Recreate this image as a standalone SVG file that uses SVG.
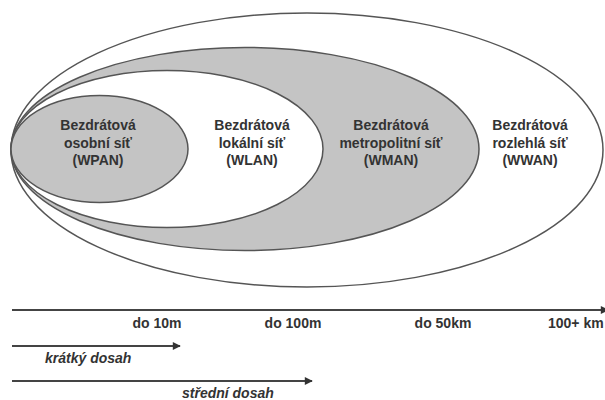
<svg xmlns="http://www.w3.org/2000/svg" width="605" height="400" viewBox="0 0 605 400">
<defs>
<style>
.ell{stroke:#555;stroke-width:1.5}
.g{fill:#c4c4c4}
.w{fill:#fff}
.t{font-family:"Liberation Sans",Arial,sans-serif;font-size:14px;font-weight:bold;fill:#333;text-anchor:middle}
.i{font-style:italic;text-anchor:start}
.ax{stroke:#444;stroke-width:2;fill:none}
</style>
<marker id="ah" viewBox="0 0 10 10" refX="9" refY="5" markerWidth="5" markerHeight="4" orient="auto" markerUnits="strokeWidth">
<path d="M0,0 L10,5 L0,10 z" fill="#333"/>
</marker>
</defs>
<rect width="605" height="400" fill="#fff"/>
<g id="wwan">
<ellipse class="ell w" cx="307" cy="150" rx="296" ry="137"/>
<text class="t" x="530" y="130">Bezdrátová</text>
<text class="t" x="530" y="147.5">rozlehlá síť</text>
<text class="t" x="530" y="165">(WWAN)</text>
</g>
<g id="wman">
<ellipse class="ell g" cx="245" cy="149" rx="234" ry="101.5"/>
<text class="t" x="391" y="130">Bezdrátová</text>
<text class="t" x="391" y="147.5">metropolitní síť</text>
<text class="t" x="391" y="165">(WMAN)</text>
</g>
<g id="wlan">
<ellipse class="ell w" cx="167" cy="149" rx="156" ry="78.5"/>
<text class="t" x="252" y="130">Bezdrátová</text>
<text class="t" x="252" y="147.5">lokální síť</text>
<text class="t" x="252" y="165">(WLAN)</text>
</g>
<g id="wpan">
<ellipse class="ell g" cx="99.5" cy="149" rx="88.5" ry="53.5"/>
<text class="t" x="98" y="130">Bezdrátová</text>
<text class="t" x="98" y="147.5">osobní síť</text>
<text class="t" x="98" y="165">(WPAN)</text>
</g>
<g id="connectors">
<line class="ax" x1="12" y1="310" x2="608" y2="310" marker-end="url(#ah)"/>
<line class="ax" x1="12" y1="346" x2="180" y2="346" marker-end="url(#ah)"/>
<line class="ax" x1="12" y1="381" x2="312" y2="381" marker-end="url(#ah)"/>
</g>
<g id="labels">
<text class="t" x="157" y="328">do 10m</text>
<text class="t" x="293" y="328">do 100m</text>
<text class="t" x="443" y="328">do 50km</text>
<text class="t" x="548" y="328" style="text-anchor:start">100+ km</text>
<text class="t i" x="45" y="363">krátký dosah</text>
<text class="t i" x="182" y="398">střední dosah</text>
</g>
</svg>
